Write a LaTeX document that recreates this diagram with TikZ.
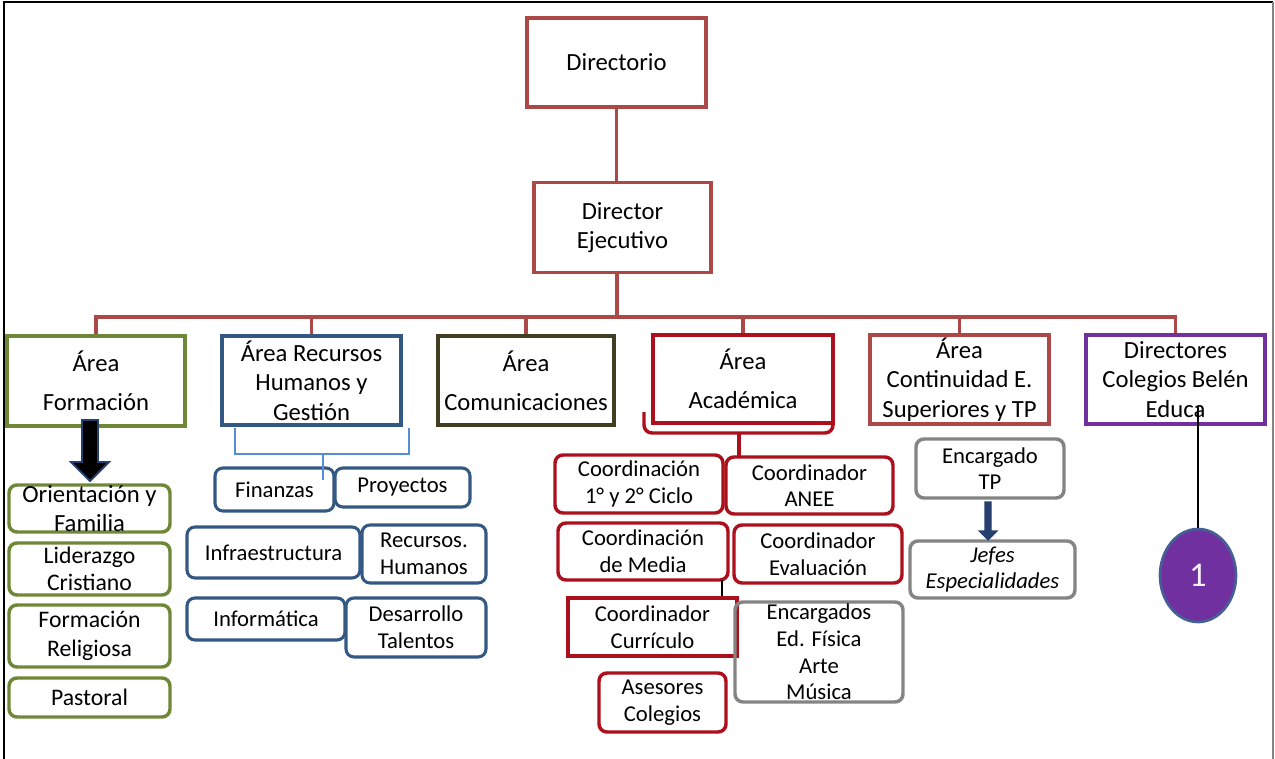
\documentclass[tikz,border=0pt]{standalone}
\usepackage{fontspec}
\setmainfont{Carlito}
\usetikzlibrary{calc,shapes.geometric}
\newcommand\fbig{\fontsize{18.5}{22}\selectfont}
\newcommand\fsmall{\fontsize{17}{20}\selectfont}
\newcommand\fmid{\fontsize{17.8}{20}\selectfont}
\definecolor{dirred}{RGB}{172,72,70}
\definecolor{acared}{RGB}{172,16,28}
\definecolor{olive}{RGB}{110,136,56}
\definecolor{darkolive}{RGB}{66,62,34}
\definecolor{navy}{RGB}{52,88,132}
\definecolor{lightblue}{RGB}{85,142,213}
\definecolor{boxgray}{RGB}{132,132,132}
\definecolor{violet}{RGB}{112,48,160}
\definecolor{arrowblue}{RGB}{37,64,110}
\definecolor{ringblue}{RGB}{70,95,150}
\tikzset{
  sz/.style 2 args={minimum width={#1*0.75pt}, minimum height={#2*0.75pt}},
  box/.style={draw, fill=white, align=center, inner sep=0pt, line width=2.6pt, font=\fbig},
  sub/.style={box, rounded corners=6pt, font=\fsmall},
  toplink/.style={draw=dirred, line width=2.6pt},
}
\begin{document}
\begin{tikzpicture}[x=0.75pt, y=-0.75pt]
\useasboundingbox (0,0) rectangle (1275,759);
% page frame
\draw[black, line width=1.8pt] (4,759) -- (4,2) -- (1273,2);
\draw[boxgray, line width=1.8pt] (1273,2) -- (1273,759);

% top levels
\node[box, draw=dirred, sz={179}{89}] (dir) at (616.5,62.5) {Directorio};
\node[box, draw=dirred, sz={177}{90}] (ej) at (622.5,227.5) {Director\\Ejecutivo};

% areas
\node[box, draw=olive, sz={178}{90}] (af) at (96,381) {Área\\[7pt]Formación};
\node[box, draw=navy, sz={179}{89}] (ar) at (311.5,380.5) {Área Recursos\\Humanos y\\Gestión};
\node[box, draw=darkolive, sz={176}{89}] (ac) at (526,380.5) {Área\\[7pt]Comunicaciones};
\node[box, draw=acared, sz={180}{88}] (aa) at (743,379) {Área\\[7pt]Académica};
\node[box, draw=dirred, sz={179}{89}] (ae) at (959.5,379.5) {Área\\Continuidad E.\\Superiores y TP};
\node[box, draw=violet, sz={179}{89}] (dc) at (1175.5,379.5) {Directores\\Colegios Belén\\Educa};

% hierarchy lines
\coordinate (bus) at (617,317);
\draw[toplink] (dir.south) -- (dir.south |- ej.north);
\draw[toplink] (ej.south -| bus) -- (bus);
\draw[toplink, line cap=rect] (af.north |- bus) -- (dc.north |- bus);
\foreach \n in {af,ar,ac,aa,ae,dc} \draw[toplink] (\n.north |- bus) -- (\n.north);

% Formación units
\node[sub, draw=olive, sz={161}{47}, font=\fbig] (fo1) at (89.5,508.5) {Orientación y\\Familia};
\node[sub, draw=olive, sz={161}{52}, font=\fmid] (fo2) at (89.5,569) {Liderazgo\\Cristiano};
\node[sub, draw=olive, sz={161}{62}, font=\fmid] (fo3) at (89.5,636) {Formación\\[2pt]Religiosa};
\node[sub, draw=olive, sz={161}{39}, font=\fmid] (fo4) at (89.5,697.5) {Pastoral};
\coordinate (fa) at (90,420);
\coordinate (fb) at (90,481);
\filldraw[draw=arrowblue, fill=black, line width=1.4pt, line join=miter]
  ($(fa)+(-8,0)$) -- ($(fa)+(8,0)$) -- ($(fb)+(8,-19)$) -- ($(fb)+(19,-19)$)
  -- (fb) -- ($(fb)+(-19,-19)$) -- ($(fb)+(-8,-19)$) -- cycle;

% Recursos Humanos units
\node[sub, draw=navy, line width=2.3pt, sz={119}{43}] (fin) at (274.5,489.5) {Finanzas};
\node[sub, draw=navy, line width=2.3pt, sz={135}{39}] (pro) at (402.5,487.5) {Proyectos};
\node[sub, draw=navy, line width=2.3pt, sz={173}{51}] (inf) at (273.5,552.5) {Infraestructura};
\node[sub, draw=navy, line width=2.3pt, sz={124}{58}] (rh) at (424,554) {Recursos.\\Humanos};
\node[sub, draw=navy, line width=2.3pt, sz={158}{42}] (inm) at (266,619) {Informática};
\node[sub, draw=navy, line width=2.3pt, sz={140}{59}] (dt) at (416,627.5) {Desarrollo\\Talentos};
\coordinate (rbl) at (235,428);
\coordinate (rbr) at (409,428);
\coordinate (rbm) at (323,454);
\coordinate (rbe) at (323,480);
\draw[lightblue, line width=2.2pt] (rbl) |- (rbm) -| (rbr);
\draw[lightblue, line width=2.2pt] (rbm) -- (rbe);

% Académica units
\node[sub, draw=acared, sz={168}{58}] (c12) at (639,484) {Coordinación\\1° y 2° Ciclo};
\node[sub, draw=acared, sz={167}{57}] (anee) at (809.5,485.5) {Coordinador\\ANEE};
\node[sub, draw=acared, sz={170}{57}] (cm) at (643,551.5) {Coordinación\\de Media};
\node[sub, draw=acared, sz={168}{58}] (cev) at (818,554) {Coordinador\\Evaluación};
\node[box, draw=acared, font=\fsmall, sz={169}{58}] (ccu) at (652.5,627) {Coordinador\\Currículo};
\node[sub, draw=boxgray, sz={168}{100}, fill=none] (enc) at (819,652) {Encargados\\Ed. Física\\Arte\\Música};
\node[sub, draw=acared, sz={127}{59}] (ase) at (662.5,702.5) {Asesores\\Colegios};
\draw[acared, line width=2.6pt, rounded corners=6pt]
  (644,412) -- (644,433) -- (833,433) -- (833,420);
\coordinate (abm) at (739,433);
\draw[acared, line width=2.6pt] (abm) -- (c12.north -| abm) -- ++(0,3);
\coordinate (cml) at (722,580);
\draw[black, line width=1.6pt] (cml) -- (cml |- ccu.north);

% Continuidad units
\node[sub, draw=boxgray, sz={148}{59}] (etp) at (990,468.5) {Encargado\\TP};
\node[sub, draw=boxgray, sz={165}{57}, font=\fsmall\itshape] (jef) at (992.5,569.5) {Jefes\\Especialidades};
\coordinate (ta) at (988,502);
\coordinate (tb) at (988,540);
\filldraw[draw=arrowblue, fill=arrowblue, line width=0.8pt]
  ($(ta)+(-3,0)$) -- ($(ta)+(3,0)$) -- ($(tb)+(3,-9)$) -- ($(tb)+(9,-9)$)
  -- (tb) -- ($(tb)+(-9,-9)$) -- ($(tb)+(-3,-9)$) -- cycle;

% Directores link
\node[ellipse, draw=ringblue, fill=violet, line width=2pt, inner sep=0pt,
      sz={76}{93}, text={rgb,255:red,245;green,240;blue,250},
      font=\fontsize{26}{30}\selectfont] (one) at (1198,575.5) {1};
\coordinate (dcl) at (1198,407);
\draw[black, line width=1.5pt] (dcl) -- (one.north);
\end{tikzpicture}
\end{document}
